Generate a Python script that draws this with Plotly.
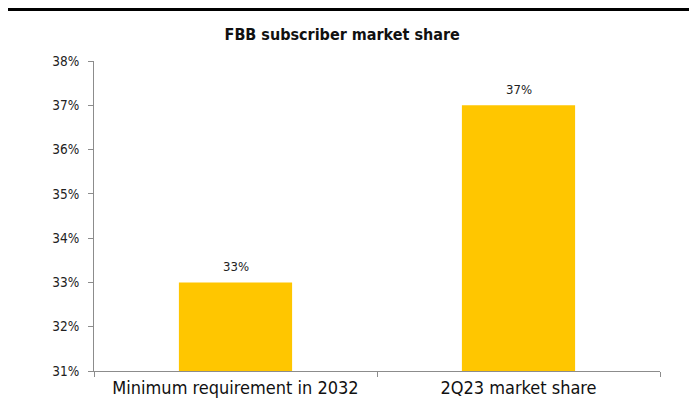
import plotly.graph_objects as go

categories = ["Minimum requirement in 2032", "2Q23 market share"]
share = [33, 37]
share_labels = ["33%", "37%"]
y_ticks = [31, 32, 33, 34, 35, 36, 37, 38]
y_tick_labels = ["31%", "32%", "33%", "34%", "35%", "36%", "37%", "38%"]

font_family = "DejaVu Sans Condensed, DejaVu Sans, sans-serif"

fig = go.Figure(go.Bar(
    x=categories,
    y=share,
    marker=dict(color="#FFC600", line=dict(width=0)),
    width=0.4,
    hoverinfo="none",
))

# value labels sit a little above each bar
for cat, val, lab in zip(categories, share, share_labels):
    fig.add_annotation(x=cat, y=val, text=lab, showarrow=False,
                       yanchor="bottom", yshift=6,
                       font=dict(size=13, color="#222222", family=font_family))

# black rule across the top of the page
fig.add_shape(type="line", xref="paper", yref="paper",
              x0=-0.2, x1=1.1, y0=1.168, y1=1.168,
              line=dict(color="black", width=4))

fig.update_layout(
    width=689, height=401,
    margin=dict(l=86, r=37, t=53, b=38),
    plot_bgcolor="white",
    paper_bgcolor="white",
    showlegend=False,
    title=dict(text="<b>FBB subscriber market share</b>", x=0.485, xanchor="center",
               y=0.935, yanchor="middle",
               font=dict(size=16, color="#111111", family=font_family)),
    font=dict(family=font_family, color="#222222"),
)

fig.update_yaxes(
    range=[31, 38],
    tickvals=y_ticks,
    ticktext=y_tick_labels,
    showgrid=False,
    zeroline=False,
    showline=True,
    linecolor="#8c8c8c",
    linewidth=1,
    ticks="outside",
    ticklen=5,
    tickcolor="#8c8c8c",
    ticklabelstandoff=6,
    tickfont=dict(size=13.5, color="#222222"),
)
fig.update_xaxes(
    showgrid=False,
    showline=True,
    linecolor="#8c8c8c",
    linewidth=1,
    ticks="outside",
    tickson="boundaries",
    ticklen=5,
    tickcolor="#8c8c8c",
    tickfont=dict(size=18, color="#111111"),
)

fig.write_html("out.html")
